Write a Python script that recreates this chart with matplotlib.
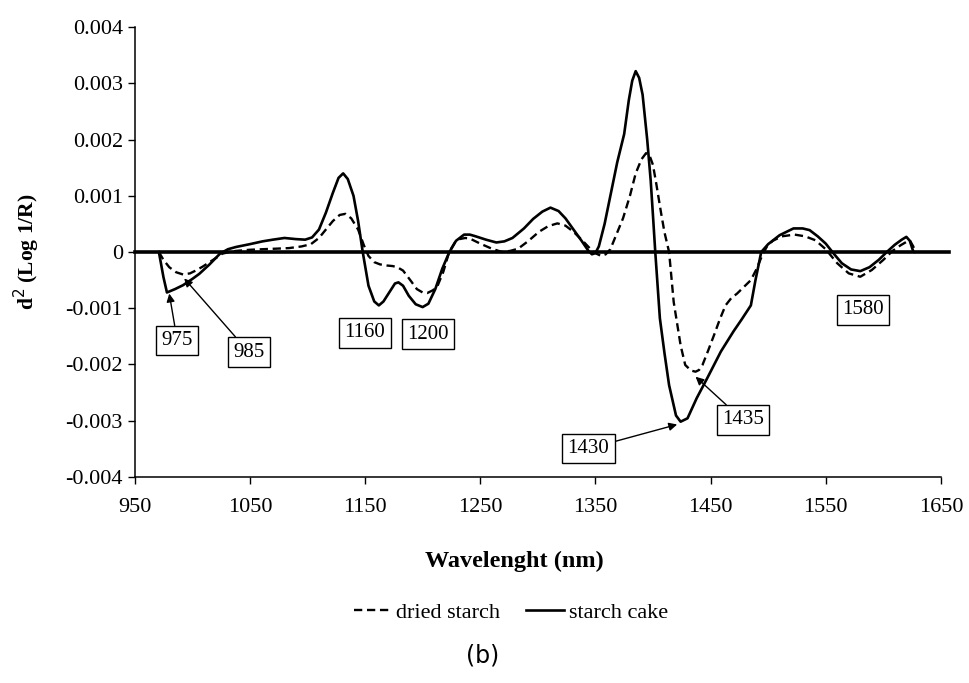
import numpy as np
import matplotlib
matplotlib.use("Agg")
import matplotlib.pyplot as plt

plt.rcParams["font.family"] = "Liberation Serif"

# wavelength (nm) and second derivative (x1e-3)
cake_wl = [971, 975, 978, 985, 992, 1000, 1006, 1015, 1024, 1031, 1038, 1050, 1061, 1070,
           1080, 1090, 1098, 1104, 1110, 1116, 1122, 1127, 1131, 1135, 1140, 1144, 1148,
           1153, 1158, 1162, 1166, 1171, 1176, 1179, 1183, 1188, 1194, 1200, 1205, 1211,
           1217, 1223, 1229, 1236, 1241, 1246, 1255, 1264, 1271, 1278, 1288, 1296, 1304,
           1311, 1318, 1324, 1331, 1338, 1344, 1347, 1350, 1353, 1358, 1364, 1369, 1375,
           1379, 1382, 1385, 1388, 1391, 1395, 1398, 1400, 1402, 1406, 1410, 1414, 1420,
           1424, 1430, 1438, 1447, 1459, 1470, 1477, 1485, 1489, 1494, 1500, 1510, 1522,
           1530, 1536, 1543, 1550, 1557, 1564, 1572, 1580, 1588, 1596, 1603, 1610, 1616,
           1620, 1623, 1626]
cake_val = [0.0, -0.45, -0.72, -0.66, -0.59, -0.48, -0.39, -0.22, -0.03, 0.05, 0.09, 0.14,
            0.19, 0.22, 0.25, 0.23, 0.22, 0.26, 0.4, 0.7, 1.05, 1.32, 1.4, 1.3, 1.0, 0.55,
            0.0, -0.6, -0.88, -0.95, -0.88, -0.72, -0.56, -0.54, -0.6, -0.78, -0.93, -0.98,
            -0.92, -0.66, -0.3, -0.01, 0.2, 0.31, 0.31, 0.28, 0.22, 0.17, 0.19, 0.25, 0.42,
            0.59, 0.72, 0.79, 0.73, 0.6, 0.4, 0.2, 0.02, -0.04, -0.02, 0.1, 0.5, 1.1, 1.6,
            2.1, 2.7, 3.05, 3.22, 3.1, 2.8, 2.0, 1.28, 0.65, 0.0, -1.18, -1.8, -2.37, -2.91,
            -3.02, -2.96, -2.6, -2.25, -1.77, -1.41, -1.2, -0.95, -0.5, 0.0, 0.14, 0.3, 0.42,
            0.42, 0.39, 0.28, 0.15, -0.03, -0.2, -0.31, -0.34, -0.27, -0.14, 0.0, 0.13, 0.22,
            0.27, 0.2, 0.01]

dried_wl = [971, 975, 980, 986, 992, 998, 1003, 1009, 1015, 1021, 1026, 1032, 1038, 1050,
            1061, 1073, 1084, 1095, 1103, 1110, 1116, 1122, 1128, 1133, 1138, 1144, 1149,
            1153, 1158, 1163, 1169, 1174, 1178, 1183, 1190, 1195, 1200, 1204, 1209, 1213,
            1218, 1223, 1228, 1232, 1237, 1241, 1250, 1260, 1269, 1276, 1283, 1292, 1301,
            1309, 1317, 1324, 1331, 1338, 1345, 1350, 1355, 1359, 1363, 1368, 1374, 1380,
            1385, 1390, 1394, 1397, 1400, 1403, 1407, 1410, 1414, 1418, 1424, 1428, 1433,
            1437, 1440, 1443, 1448, 1453, 1458, 1463, 1468, 1473, 1479, 1485, 1490, 1495,
            1499, 1504, 1512, 1523, 1532, 1541, 1550, 1560, 1570, 1580, 1590, 1600, 1608,
            1615, 1620, 1623, 1626, 1628]
dried_val = [0.0, -0.14, -0.27, -0.36, -0.4, -0.38, -0.33, -0.26, -0.18, -0.1, -0.03, 0.0,
             0.02, 0.04, 0.05, 0.06, 0.07, 0.1, 0.14, 0.25, 0.4, 0.55, 0.66, 0.68, 0.6, 0.4,
             0.12, -0.07, -0.18, -0.22, -0.24, -0.25, -0.27, -0.33, -0.52, -0.66, -0.72,
             -0.73, -0.68, -0.6, -0.35, 0.0, 0.17, 0.23, 0.25, 0.24, 0.15, 0.06, 0.0, 0.02,
             0.06, 0.2, 0.36, 0.46, 0.51, 0.47, 0.36, 0.22, 0.07, -0.02, -0.07, -0.04, 0.05,
             0.3, 0.6, 1.0, 1.4, 1.65, 1.76, 1.72, 1.55, 1.2, 0.7, 0.35, 0.0, -0.89, -1.66,
             -2.01, -2.11, -2.13, -2.1, -2.01, -1.75, -1.48, -1.2, -0.95, -0.82, -0.74, -0.62,
             -0.5, -0.3, -0.05, 0.1, 0.2, 0.28, 0.31, 0.28, 0.21, 0.05, -0.2, -0.38, -0.44,
             -0.32, -0.14, 0.02, 0.12, 0.18, 0.21, 0.1, -0.02]

yticks = [-0.004, -0.003, -0.002, -0.001, 0, 0.001, 0.002, 0.003, 0.004]
ytick_labels = ["-0.004", "-0.003", "-0.002", "-0.001", "0", "0.001", "0.002", "0.003", "0.004"]
xticks = [950, 1050, 1150, 1250, 1350, 1450, 1550, 1650]

# label text, box position, arrow tip (None = no arrow)
notes = [("975", (987, -1.58e-3), (980, -0.74e-3)),
         ("985", (1049, -1.78e-3), (993, -0.47e-3)),
         ("1160", (1150, -1.44e-3), None),
         ("1200", (1205, -1.46e-3), None),
         ("1430", (1344, -3.50e-3), (1421, -3.07e-3)),
         ("1435", (1478, -2.99e-3), (1437, -2.22e-3)),
         ("1580", (1582, -1.03e-3), None)]

fig = plt.figure(figsize=(9.69, 6.83), dpi=100)
ax = fig.add_axes([0.139, 0.302, 0.832, 0.658])

ax.plot(dried_wl, np.array(dried_val) * 1e-3, color="black", lw=1.7, ls=(0, (3.5, 2)),
        label="dried starch")
ax.plot(cake_wl, np.array(cake_val) * 1e-3, color="black", lw=1.9, label="starch cake")
ax.plot([950, 1657], [0, 0], color="black", lw=2.6, clip_on=False)

ax.set_xlim(950, 1650)
ax.set_ylim(-0.004, 0.004)
ax.set_xticks(xticks)
ax.set_yticks(yticks)
ax.set_yticklabels(ytick_labels)
ax.tick_params(labelsize=16, length=5, width=1, direction="out")
ax.tick_params(axis="x", pad=10)
for s in ["top", "right"]:
    ax.spines[s].set_visible(False)
for s in ["left", "bottom"]:
    ax.spines[s].set_linewidth(1.1)

ax.set_ylabel("d$^{2}$ (Log 1/R)", fontsize=15.5, fontweight="bold", labelpad=17)
ax.set_xlabel("Wavelenght (nm)", fontsize=17.5, fontweight="bold", labelpad=25)
ax.xaxis.label.set_x(0.471)

for txt, pos, tip in notes:
    bbox = dict(boxstyle="square,pad=0.25", fc="white", ec="black", lw=1)
    if tip is None:
        ax.text(pos[0], pos[1], txt, fontsize=15, ha="center", va="center", bbox=bbox)
    else:
        ax.annotate(txt, xy=tip, xytext=pos, fontsize=15, ha="center", va="center",
                    bbox=bbox,
                    arrowprops=dict(arrowstyle="-|>", color="black", lw=1, mutation_scale=12,
                                    shrinkA=0, shrinkB=0))

fig.legend(loc="center", bbox_to_anchor=(0.527, 0.103), ncol=2, frameon=False,
           fontsize=16, handlelength=1.7, handletextpad=0.2, columnspacing=1.2)
fig.text(0.498, 0.04, "(b)", fontsize=17, family="DejaVu Sans", ha="center", va="center")

fig.savefig("out.png", dpi=100)
